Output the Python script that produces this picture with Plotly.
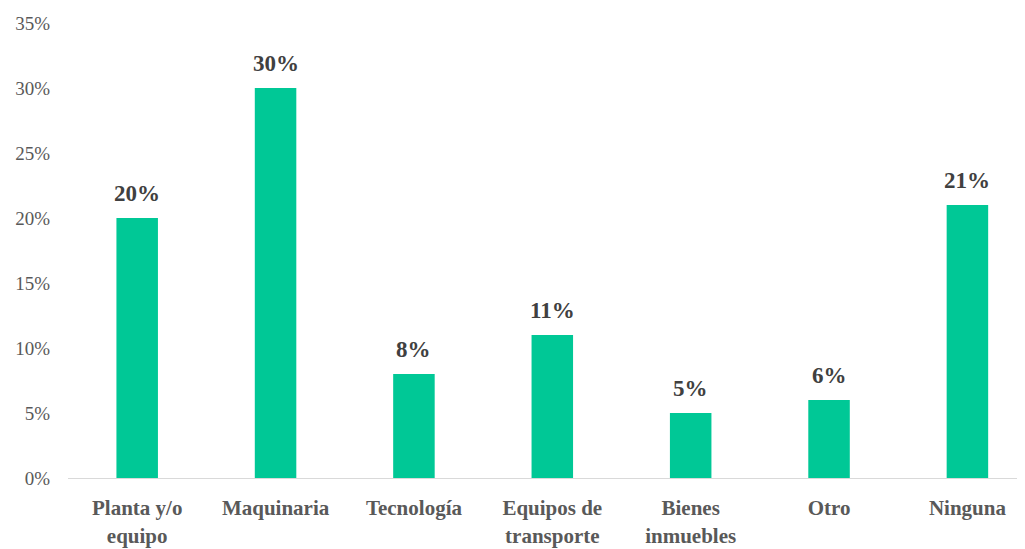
import plotly.graph_objects as go

# Datos
categorias = ["Planta y/o<br>equipo", "Maquinaria", "Tecnología", "Equipos de<br>transporte",
              "Bienes<br>inmuebles", "Otro", "Ninguna"]
valores = [0.20, 0.30, 0.08, 0.11, 0.05, 0.06, 0.21]
ticks_y = [0, 0.05, 0.10, 0.15, 0.20, 0.25, 0.30, 0.35]

serif = "Liberation Serif"
x_pos = list(range(len(categorias)))

fig = go.Figure(
    go.Bar(
        x=x_pos, y=valores,
        marker=dict(color="#00C896", line=dict(width=0)),
        width=0.30,
        cliponaxis=False,
    )
)

# etiquetas de datos algo separadas de la barra
for xi, v in zip(x_pos, valores):
    fig.add_annotation(
        x=xi, y=v, text=f"<b>{v:.0%}</b>", showarrow=False,
        yanchor="bottom", yshift=10,
        font=dict(family=serif, size=23, color="#404040"),
    )

# la página añade 8 px de margen al cuerpo: se compensa en los márgenes
fig.update_layout(
    width=1025, height=549,
    margin=dict(l=60, r=13, t=15, b=79, autoexpand=False),
    plot_bgcolor="white", paper_bgcolor="white",
    showlegend=False,
    font=dict(family=serif),
    xaxis=dict(
        tickmode="array", tickvals=x_pos,
        ticktext=["<b>" + c + "</b>" for c in categorias],
        range=[-0.5, 6.38],
        showline=True, linecolor="#d9d9d9", linewidth=1,
        showgrid=False, zeroline=False,
        tickfont=dict(family=serif, size=21, color="#595959"),
        ticks="", ticklabelstandoff=11,
        automargin=False,
    ),
    yaxis=dict(
        range=[0, 0.35], tickvals=ticks_y, tickformat=".0%",
        showgrid=False, zeroline=False, showline=False,
        tickfont=dict(family=serif, size=19, color="#595959"),
        ticklabelstandoff=17,
        automargin=False,
    ),
)

fig.write_html("out.html")
